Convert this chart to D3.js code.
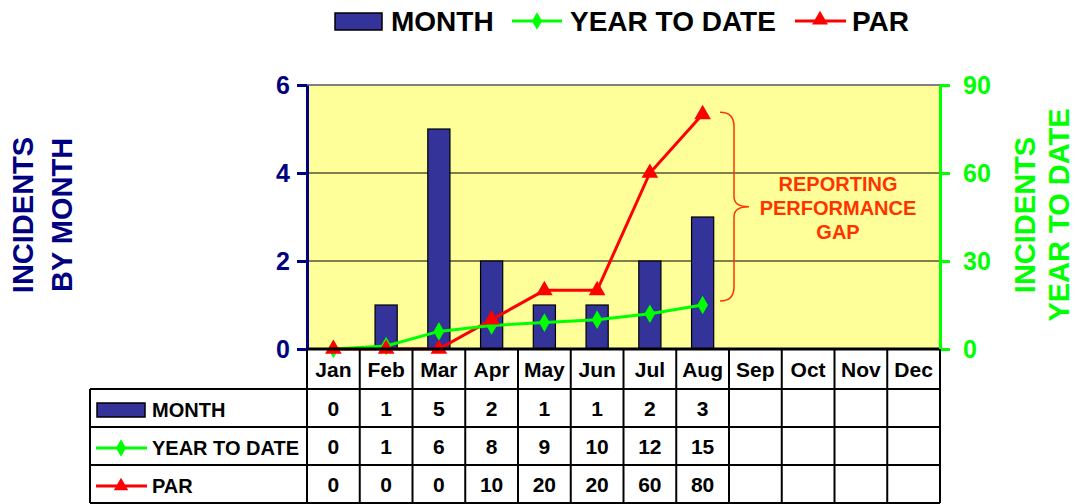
<!DOCTYPE html>
<html>
<head>
<meta charset="utf-8">
<script src="https://cdn.jsdelivr.net/npm/d3@7"></script>
<style>
  body { margin: 0; background: #fff; }
  svg { display: block; font-family: "Liberation Sans", Arial, sans-serif; font-weight: bold; }
</style>
</head>
<body>
<div id="chart"></div>
<script>
// chart data
const months = ['Jan', 'Feb', 'Mar', 'Apr', 'May', 'Jun', 'Jul', 'Aug', 'Sep', 'Oct', 'Nov', 'Dec'];
const monthValues = [0, 1, 5, 2, 1, 1, 2, 3];
const ytdValues = [0, 1, 6, 8, 9, 10, 12, 15];
const parValues = [0, 0, 0, 10, 20, 20, 60, 80];
const leftTicks = [0, 2, 4, 6];
const rightTicks = [0, 30, 60, 90];

const config = {
  width: 1075,
  height: 504,
  plot: { left: 307, right: 940, top: 85, bottom: 349 },
  table: { left: 90, headerH: 40, rowH: 38 },
  navy: '#000080',
  green: '#00ff00',
  red: '#ff0000',
  bar: '#333399',
  gap: '#ff3300'
};

const svg = d3.select('#chart')
  .append('svg')
  .attr('width', config.width)
  .attr('height', config.height);

const p = config.plot;

// scales
const xScale = d3.scaleBand().domain(months).range([p.left, p.right]);
const yLeft = d3.scaleLinear().domain([0, 6]).range([p.bottom, p.top]);
const yRight = d3.scaleLinear().domain([0, 90]).range([p.bottom, p.top]);

// plot background
svg.append('rect')
  .attr('x', p.left).attr('y', p.top)
  .attr('width', p.right - p.left).attr('height', p.bottom - p.top)
  .attr('fill', '#ffff99');

// gridlines
svg.append('g').selectAll('line')
  .data(leftTicks.filter(d => d > 0))
  .join('line')
  .attr('x1', p.left).attr('x2', p.right)
  .attr('y1', d => yLeft(d)).attr('y2', d => yLeft(d))
  .attr('stroke', d => d === 6 ? '#808080' : '#000')
  .attr('stroke-width', d => d === 6 ? 2 : 1);

// bars
const barW = xScale.bandwidth() * 0.42;
svg.append('g').selectAll('rect')
  .data(monthValues)
  .join('rect')
  .attr('x', (d, i) => xScale(months[i]) + (xScale.bandwidth() - barW) / 2)
  .attr('y', d => yLeft(d))
  .attr('width', barW)
  .attr('height', d => p.bottom - yLeft(d))
  .attr('fill', config.bar)
  .attr('stroke', '#000')
  .attr('stroke-width', 1.2);

const cx = i => xScale(months[i]) + xScale.bandwidth() / 2;

// lines
const lineRight = d3.line().x((d, i) => cx(i)).y(d => yRight(d));

svg.append('path')
  .datum(parValues)
  .attr('d', lineRight)
  .attr('fill', 'none')
  .attr('stroke', config.red)
  .attr('stroke-width', 3);

svg.append('path')
  .datum(ytdValues)
  .attr('d', lineRight)
  .attr('fill', 'none')
  .attr('stroke', config.green)
  .attr('stroke-width', 3);

svg.append('g').selectAll('path')
  .data(ytdValues)
  .join('path')
  .attr('transform', (d, i) => `translate(${cx(i)},${yRight(d)})`)
  .attr('d', d3.symbol(d3.symbolDiamond, 100))
  .attr('fill', config.green);

svg.append('g').selectAll('path')
  .data(parValues)
  .join('path')
  .attr('transform', (d, i) => `translate(${cx(i)},${yRight(d)})`)
  .attr('d', d3.symbol(d3.symbolTriangle, 120))
  .attr('fill', config.red);

// bottom line of plot
svg.append('line')
  .attr('x1', p.left).attr('x2', p.right)
  .attr('y1', p.bottom).attr('y2', p.bottom)
  .attr('stroke', '#000').attr('stroke-width', 3);

// axes
const leftAxis = svg.append('g')
  .attr('transform', `translate(${p.left},0)`)
  .call(d3.axisLeft(yLeft).tickValues(leftTicks).tickFormat(d3.format('d'))
    .tickSize(10).tickSizeOuter(0).tickPadding(7));
leftAxis.select('.domain').attr('stroke', config.navy).attr('stroke-width', 3);
leftAxis.selectAll('.tick line').attr('stroke', config.navy).attr('stroke-width', 3);
leftAxis.selectAll('.tick text')
  .attr('fill', config.navy)
  .attr('font-size', 25)
  .attr('font-family', '"Liberation Sans", Arial, sans-serif')
  .attr('font-weight', 'bold');

const rightAxis = svg.append('g')
  .attr('transform', `translate(${p.right},0)`)
  .call(d3.axisRight(yRight).tickValues(rightTicks).tickFormat(d3.format('d'))
    .tickSize(10).tickSizeOuter(0).tickPadding(13));
rightAxis.select('.domain').attr('stroke', config.green).attr('stroke-width', 3);
rightAxis.selectAll('.tick line').attr('stroke', config.green).attr('stroke-width', 3);
rightAxis.selectAll('.tick text')
  .attr('fill', config.green)
  .attr('font-size', 25)
  .attr('font-family', '"Liberation Sans", Arial, sans-serif')
  .attr('font-weight', 'bold');

// axis titles
const titleY = 215;
[['INCIDENTS', 33], ['BY MONTH', 72]].forEach(([t, x]) => {
  svg.append('text')
    .attr('transform', `translate(${x},${titleY}) rotate(-90)`)
    .attr('text-anchor', 'middle')
    .attr('font-size', 29)
    .attr('fill', config.navy)
    .text(t);
});
[['INCIDENTS', 1035], ['YEAR TO DATE', 1069]].forEach(([t, x]) => {
  svg.append('text')
    .attr('transform', `translate(${x},${titleY}) rotate(-90)`)
    .attr('text-anchor', 'middle')
    .attr('font-size', 29)
    .attr('fill', config.green)
    .text(t);
});

// reporting performance gap annotation
const bx = xScale('Aug') + xScale.bandwidth() - 9;
const bTop = yRight(80) - 2, bBot = yRight(15) - 4, bMid = (bTop + bBot) / 2;
svg.append('path')
  .attr('d', `M${bx},${bTop} Q${bx + 14},${bTop} ${bx + 14},${bTop + 14}
    L${bx + 14},${bMid - 10} Q${bx + 14},${bMid} ${bx + 29},${bMid}
    Q${bx + 14},${bMid} ${bx + 14},${bMid + 10}
    L${bx + 14},${bBot - 14} Q${bx + 14},${bBot} ${bx},${bBot}`)
  .attr('fill', 'none')
  .attr('stroke', config.gap)
  .attr('stroke-width', 1.5);

const gapText = svg.append('text')
  .attr('x', 838)
  .attr('text-anchor', 'middle')
  .attr('font-size', 20)
  .attr('fill', config.gap);
['REPORTING', 'PERFORMANCE', 'GAP'].forEach((t, i) => {
  gapText.append('tspan').attr('x', 838).attr('y', bMid - 16 + i * 24).text(t);
});

// top legend
const legend = svg.append('g').attr('font-size', 28);
legend.append('rect')
  .attr('x', 335).attr('y', 13).attr('width', 47).attr('height', 17)
  .attr('fill', config.bar).attr('stroke', '#000').attr('stroke-width', 1.5);
legend.append('text').attr('x', 391).attr('y', 31).text('MONTH');
legend.append('line').attr('x1', 512).attr('x2', 562).attr('y1', 21).attr('y2', 21)
  .attr('stroke', config.green).attr('stroke-width', 3);
legend.append('path').attr('transform', 'translate(537,21)')
  .attr('d', d3.symbol(d3.symbolDiamond, 90)).attr('fill', config.green);
legend.append('text').attr('x', 570).attr('y', 31).text('YEAR TO DATE');
legend.append('line').attr('x1', 795).attr('x2', 846).attr('y1', 21).attr('y2', 21)
  .attr('stroke', config.red).attr('stroke-width', 3);
legend.append('path').attr('transform', 'translate(820,20)')
  .attr('d', d3.symbol(d3.symbolTriangle, 110)).attr('fill', config.red);
legend.append('text').attr('x', 852).attr('y', 31).text('PAR');

// data table
const t = config.table;
const rows = [
  { label: 'MONTH', values: monthValues, key: 'bar' },
  { label: 'YEAR TO DATE', values: ytdValues, key: 'ytd' },
  { label: 'PAR', values: parValues, key: 'par' }
];
const rowTop = i => p.bottom + t.headerH + i * t.rowH;
const tableBottom = rowTop(rows.length);

const table = svg.append('g');

// month header
table.selectAll('.month-label')
  .data(months)
  .join('text')
  .attr('class', 'month-label')
  .attr('x', d => xScale(d) + xScale.bandwidth() / 2)
  .attr('y', p.bottom + 28)
  .attr('text-anchor', 'middle')
  .attr('font-size', 21)
  .text(d => d);

// row values
rows.forEach((row, r) => {
  table.append('g').selectAll('text')
    .data(row.values)
    .join('text')
    .attr('x', (d, i) => cx(i))
    .attr('y', rowTop(r) + 27)
    .attr('text-anchor', 'middle')
    .attr('font-size', 21)
    .text(d => d);

  table.append('text')
    .attr('x', 152)
    .attr('y', rowTop(r) + 28)
    .attr('font-size', 20)
    .text(row.label);

  const sy = rowTop(r) + t.rowH / 2 + 2;
  if (row.key === 'bar') {
    table.append('rect')
      .attr('x', 97).attr('y', sy - 7).attr('width', 48).attr('height', 14)
      .attr('fill', config.bar).attr('stroke', '#000').attr('stroke-width', 1.5);
  } else {
    const col = row.key === 'ytd' ? config.green : config.red;
    table.append('line').attr('x1', 96).attr('x2', 147).attr('y1', sy).attr('y2', sy)
      .attr('stroke', col).attr('stroke-width', 3);
    table.append('path').attr('transform', `translate(121,${sy})`)
      .attr('d', d3.symbol(row.key === 'ytd' ? d3.symbolDiamond : d3.symbolTriangle, 90))
      .attr('fill', col);
  }
});

// table grid lines
const gridStroke = 2;
rows.forEach((row, r) => {
  table.append('line')
    .attr('x1', t.left).attr('x2', p.right)
    .attr('y1', rowTop(r)).attr('y2', rowTop(r))
    .attr('stroke', '#000').attr('stroke-width', gridStroke);
});
table.append('line')
  .attr('x1', t.left).attr('x2', p.right)
  .attr('y1', tableBottom).attr('y2', tableBottom)
  .attr('stroke', '#000').attr('stroke-width', gridStroke);
table.append('line')
  .attr('x1', t.left).attr('x2', t.left)
  .attr('y1', rowTop(0)).attr('y2', tableBottom)
  .attr('stroke', '#000').attr('stroke-width', gridStroke);
table.selectAll('.col-line')
  .data(months.map(m => xScale(m)).concat([p.right]))
  .join('line')
  .attr('class', 'col-line')
  .attr('x1', d => d).attr('x2', d => d)
  .attr('y1', p.bottom).attr('y2', tableBottom)
  .attr('stroke', '#000').attr('stroke-width', gridStroke);
</script>
</body>
</html>
